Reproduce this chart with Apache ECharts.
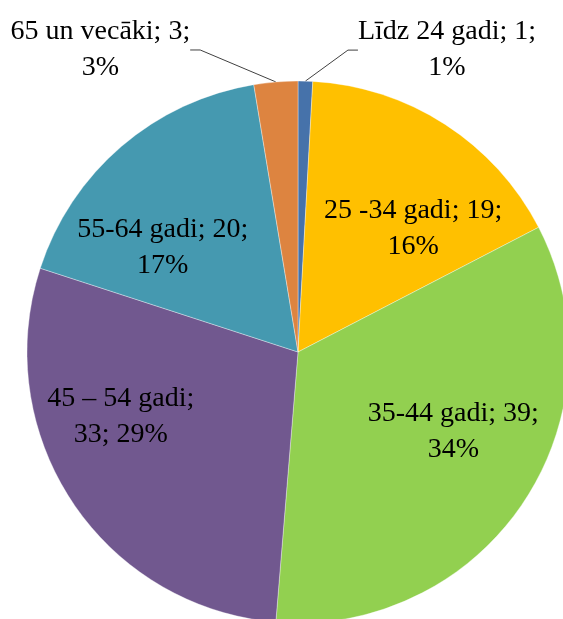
<!DOCTYPE html>
<html>
<head>
<meta charset="utf-8">
<script src="https://cdn.jsdelivr.net/npm/echarts@6/dist/echarts.min.js"></script>
<style>
html, body { margin: 0; padding: 0; background: #fff; }
#chart { width: 563px; height: 619px; }
</style>
</head>
<body>
<div id="chart"></div>
<script>
// vecuma grupas
var categories = ['Līdz 24 gadi', '25 -34 gadi', '35-44 gadi', '45 – 54 gadi', '55-64 gadi', '65 un vecāki'];
var counts = [1, 19, 39, 33, 20, 3];
var colors = ['#4672AA', '#FFC000', '#92D050', '#71588F', '#4599B0', '#DD8440'];

// label tweaks: parts on the first line, outside or not, nudge in px
var firstLineParts = [2, 2, 2, 1, 2, 2];
var outsideLabel = [true, false, false, false, false, true];
var labelNudge = [[37, -11], [40, -7], [40, 3], [-62, -12], [-45, 1], [-69, -12]];

var pieData = [];
for (var i = 0; i < categories.length; i++) {
    pieData.push({
        name: categories[i],
        value: counts[i],
        itemStyle: { color: colors[i] },
        label: { position: outsideLabel[i] ? 'outside' : 'inside' },
        labelLine: { show: outsideLabel[i] }
    });
}

var myChart = echarts.init(document.getElementById('chart'));
var option = {
    animation: false,
    series: [{
        type: 'pie',
        center: [298, 352],
        radius: 271,
        startAngle: 90,
        clockwise: true,
        avoidLabelOverlap: false,
        percentPrecision: 0,
        itemStyle: { borderColor: 'rgba(255,255,255,0.7)', borderWidth: 0.5 },
        label: {
            fontFamily: '"Liberation Serif", "Times New Roman", serif',
            fontSize: 28,
            lineHeight: 36,
            color: '#000',
            formatter: function (p) {
                var parts = [p.name, p.value, p.percent + '%'];
                var k = firstLineParts[p.dataIndex];
                return parts.slice(0, k).join('; ') + ';\n' + parts.slice(k).join('; ');
            }
        },
        labelLine: {
            length: 20,
            length2: 10,
            lineStyle: { color: '#404040', width: 1 }
        },
        labelLayout: function (p) {
            // move from the default spot; x/y so the leader line follows
            var n = labelNudge[p.dataIndex];
            var r = p.labelRect;
            return {
                x: r.x + r.width / 2 + n[0],
                y: r.y + r.height / 2 + n[1],
                align: 'center',
                verticalAlign: 'middle'
            };
        },
        data: pieData
    }]
};
myChart.setOption(option);
</script>
</body>
</html>
